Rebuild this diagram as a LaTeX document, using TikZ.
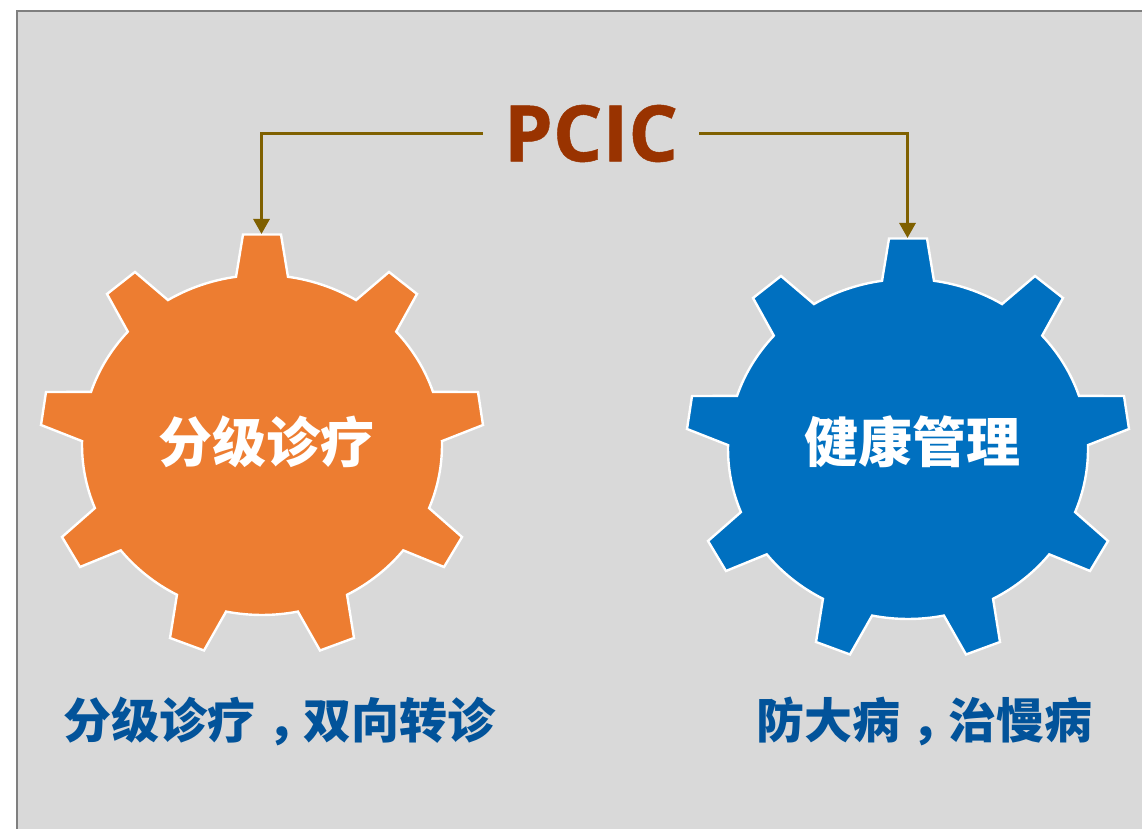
\documentclass[tikz,border=0pt]{standalone}
\usepackage{fontspec}
\usetikzlibrary{arrows.meta}
\newfontfamily\cjk{Noto Sans CJK SC}
\newfontfamily\latinb{Open Sans}[BoldFeatures={FakeBold=0.6}]
\definecolor{panel}{HTML}{D9D9D9}
\definecolor{frame}{HTML}{7F7F7F}
\definecolor{gearorange}{HTML}{ED7D31}
\definecolor{gearblue}{HTML}{0070C0}
\definecolor{caption}{HTML}{02539A}
\definecolor{arrowbrown}{HTML}{7F6000}
\definecolor{titlered}{HTML}{993300}
\def\gp#1{({180*cos(#1)},{170*sin(#1)})}
\def\garc#1#2{\gp{#1} arc[start angle=#1,end angle=#2,x radius=180,y radius=170]}
\newcommand{\gearoutline}[2]{%
  \begin{scope}[shift={(#1)}]
    \draw[white,line width=2.4pt,fill=#2,line join=miter]
      \garc{81.7}{58.5} -- (127,173) -- (155,151) --
      \garc{41.8}{18.2} -- (216,53) -- (221,20) --
      \garc{1.3}{-21.8} -- (200,-92) -- (182,-122) --
      \garc{-38.3}{-61.8} -- (92,-193) -- (58,-205.5) --
      \garc{-78.5}{-101.5} -- (-58,-205.5) -- (-92,-193) --
      \garc{-118.2}{-141.7} -- (-182,-122) -- (-200,-92) --
      \garc{-158.2}{-181.3} -- (-221,20) -- (-216,53) --
      \garc{-198.2}{-221.8} -- (-155,151) -- (-127,173) --
      \garc{-238.5}{-261.7} -- (-19,210.5) -- (19,210.5) -- cycle;
  \end{scope}}
\newcommand{\capcomma}{\kern.24em，\kern-.24em}
\tikzset{
  gearlabel/.style={text=white,font=\cjk\bfseries\fontsize{54}{54}\selectfont,inner sep=0pt},
  captionlabel/.style={text=caption,font=\cjk\bfseries\fontsize{48}{48}\selectfont,inner sep=0pt},
  feed/.style={draw=arrowbrown,line width=3pt,-{Triangle[width=16pt,length=15pt]}},
}
\begin{document}
\begin{tikzpicture}[x=1pt,y=1pt]
  \useasboundingbox (0,0) rectangle (1142,829);
  \fill[panel] (17,0) rectangle (1142,818);
  \draw[frame,line width=2.8pt] (17,0) -- (17,818) -- (1142,818);
  \gearoutline{262,384}{gearorange}
  \gearoutline{908,380}{gearblue}
  \coordinate (toothL) at (261.5,595);
  \coordinate (toothR) at (907.5,591);
  \node[text=titlered,font=\latinb\bfseries\fontsize{78}{78}\selectfont,inner xsep=21pt,inner ysep=0pt] (pcic) at (591,695.5) {PCIC};
  \draw[feed] (pcic.west) -| (toothL);
  \draw[feed] (pcic.east) -| (toothR);
  \node[gearlabel] (fenji) at (266,387) {分级诊疗};
  \node[gearlabel] (jiankang) at (912,387) {健康管理};
  \node[captionlabel] (capL) at (279.5,108) {分级诊疗\capcomma 双向转诊};
  \node[captionlabel] (capR) at (924,108) {防大病\capcomma 治慢病};
\end{tikzpicture}
\end{document}
